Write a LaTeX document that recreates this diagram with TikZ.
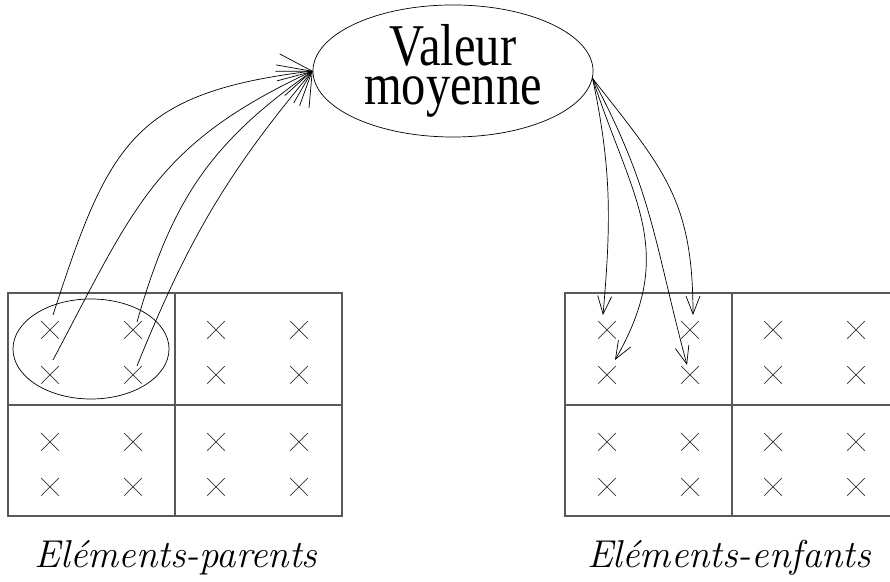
\documentclass[tikz,border=0pt]{standalone}
\usepackage{fontspec}
\usepackage{graphicx}
\setmainfont{Liberation Serif}
\usetikzlibrary{calc,shapes.geometric,shapes.misc,arrows.meta}

\begin{document}
\begin{tikzpicture}[x=0.025cm,y=0.025cm,
			grid/.style={draw=black!65,line width=0.8pt},
			xm/.style={cross out,draw=black!80,line width=0.5pt,minimum size=0.42cm,inner sep=0pt},
			arl/.style={-{Straight Barb[length=0.75cm,width=1.05cm]},line width=0.5pt},
			arr/.style={-{Straight Barb[length=0.45cm,width=0.35cm]},line width=0.5pt},
			lab/.style={font=\fontfamily{lmr}\fontsize{27.6}{32}\selectfont\itshape,anchor=base}]
			
			\clip (0,0) rectangle (890,582);
			
			% The two grids (parents left, children right)
			\draw[grid] (8,66) rectangle (342,289);
			\draw[grid] (175,66) -- (175,289);
			\draw[grid] (8,177) -- (342,177);
			\draw[grid] (565,66) rectangle (899,289);
			\draw[grid] (732,66) -- (732,289);
			\draw[grid] (565,177) -- (899,177);
			
			% Nodes of the grids
			\foreach \c/\x in {1/50,2/133,3/216,4/299} {
				\foreach \r/\y in {1/252,2/207,3/140,4/95} {
					\node[xm] (p\r\c) at (\x,\y) {};
					\node[xm] (e\r\c) at (\x+557,\y) {};
				}
			}
			
			% Group of parents and mean value
			\node[ellipse,draw,line width=0.5pt,minimum width=3.9cm,
			minimum height=2.5cm,inner sep=0pt] (grp) at (91,233) {};
			\node[ellipse,draw,line width=0.5pt,minimum width=7cm,
			minimum height=3.3cm,inner sep=0pt] (moy) at (453,511)
			{\scalebox{1}[1.22]{\fontsize{34.5}{22}\selectfont
					\begin{tabular}{@{}c@{}}Valeur\\moyenne\end{tabular}}};
			
			% Parents -> mean value
			\draw[arl] ($(p11)+(3,15)$) to[out=72,in=187,looseness=1.3] (moy.west);
			\draw[arl] ($(p21)+(3,15)$) to[out=62,in=205,looseness=1.15] (moy.west);
			\draw[arl] ($(p12)+(4,8)$) to[out=74,in=215,looseness=1.05] (moy.west);
			\draw[arl] ($(p22)+(4,9)$) to[out=68,in=230] (moy.west);
			
			% Mean value -> children
			\draw[arr] (moy.-3) to[out=-78,in=85] ($(e11)+(-4,15)$);
			\draw[arr] (moy.-3) to[out=-72,in=60,looseness=1.15] ($(e21)+(8,15)$);
			\draw[arr] (moy.-3) to[out=-62,in=105,looseness=1.1] ($(e22)+(-3,10)$);
			\draw[arr] (moy.-3) to[out=-52,in=90,looseness=1.15] ($(e12)+(3,15)$);
			
			% Captions
			\node[lab] (lpar) at (176,14) {Eléments-parents};
			\node[lab] (lenf) at (729,14) {Eléments-enfants};
			
		\end{tikzpicture}
\end{document}
